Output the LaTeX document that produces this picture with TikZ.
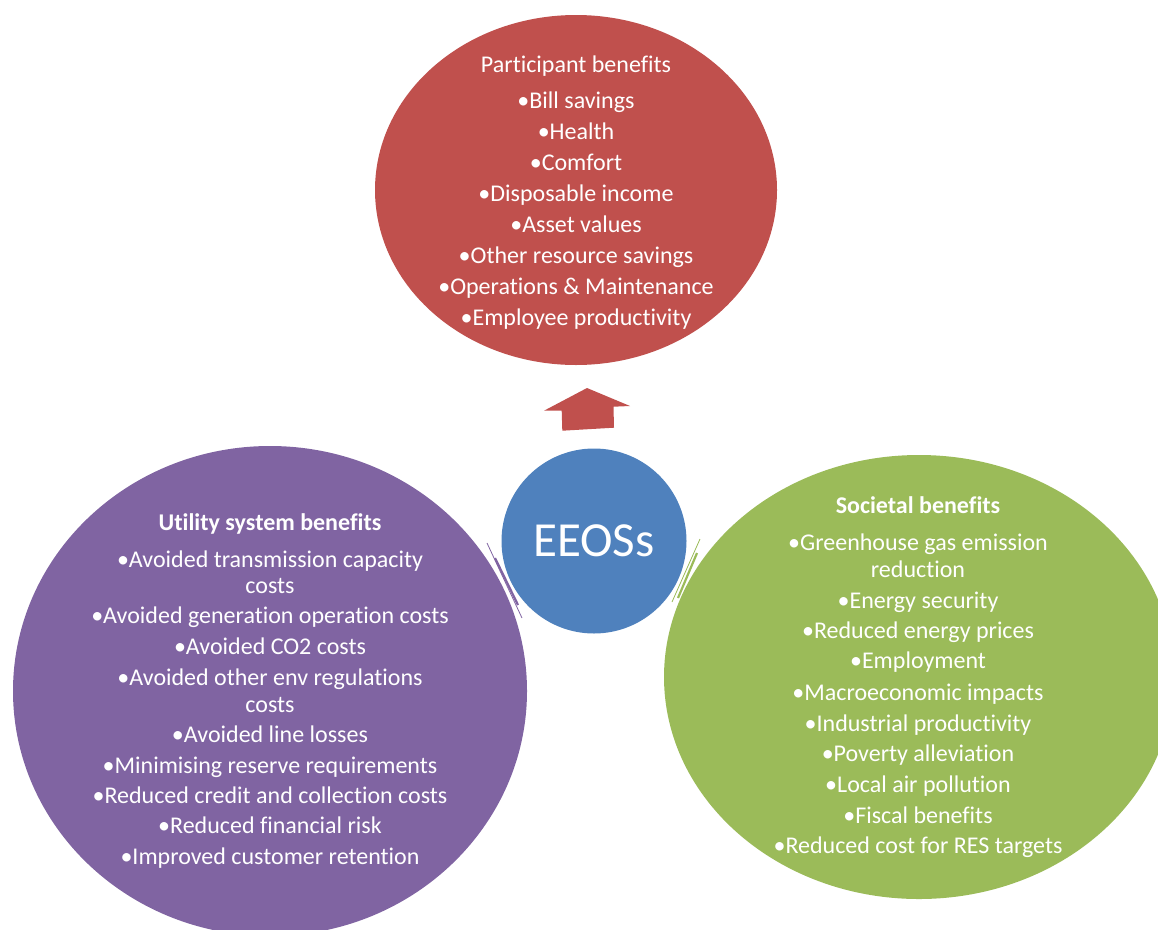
\documentclass[tikz,border=0pt]{standalone}
\usepackage{fontspec}
\setmainfont{Carlito}[Ligatures=NoCommon]
\usetikzlibrary{shapes.geometric}
\definecolor{cred}{HTML}{C0504D}
\definecolor{cpurple}{HTML}{8064A2}
\definecolor{cgreen}{HTML}{9BBB59}
\definecolor{cblue}{HTML}{4F81BD}
\tikzset{
  blob/.style={ellipse, inner sep=0pt, draw=none},
  txt/.style={anchor=base, text=white, inner sep=0pt, font=\fontsize{24}{28}\selectfont},
  ttl/.style={txt, font=\fontsize{24}{28}\selectfont\bfseries},
  sliver/.style={line cap=butt},
}
\begin{document}
\begin{tikzpicture}[x=1pt,y=-1pt]
\useasboundingbox (0,0) rectangle (1158,929);
\begin{scope}
\clip (0,0) rectangle (1158,929);
% ellipses
\node[blob, fill=cred, minimum width=402pt, minimum height=350pt] (red) at (576,190) {};
\node[blob, fill=cpurple, minimum width=514pt, minimum height=490pt] (purple) at (270,691) {};
\node[blob, fill=cgreen, minimum width=510pt, minimum height=444pt] (green) at (919,677) {};
\node[circle, fill=cblue, inner sep=0pt, minimum size=185pt, text=white,
      font=\fontsize{49}{55}\selectfont] (eeos) at (594,541) {EEOSs};
\end{scope}
% top arrow
\fill[cred] (587,388) coordinate (tip) -- (630,406) -- (613.5,406.7) -- (614,427.7)
  -- (562.3,430.7) -- (561.7,410.7) -- (544,410.7) -- cycle;
% slivers
\draw[cpurple, line width=0.8pt, sliver] (487,543) coordinate (pl1) -- (522,618) coordinate (pl2);
\draw[cpurple, line width=2.2pt, sliver] (495,558) coordinate (pl3) -- (518,605) coordinate (pl4);
\draw[cgreen, line width=0.8pt, sliver] (700,539) coordinate (gl1) -- (672,602) coordinate (gl2);
\draw[cgreen, line width=2.2pt, sliver] (697,553) coordinate (gl3) -- (678,598) coordinate (gl4);
% red texts
\node[txt] (r0) at (576,72) {Participant benefits};
\node[txt] (r1) at (576,108) {\textbullet Bill savings};
\node[txt] (r2) at (576,139) {\textbullet Health};
\node[txt] (r3) at (576,170) {\textbullet Comfort};
\node[txt] (r4) at (576,201) {\textbullet Disposable income};
\node[txt] (r5) at (576,232) {\textbullet Asset values};
\node[txt] (r6) at (576,263) {\textbullet Other resource savings};
\node[txt] (r7) at (576,294) {\textbullet Operations \& Maintenance};
\node[txt] (r8) at (576,325) {\textbullet Employee productivity};
% purple texts
\node[ttl] (p0) at (270,530) {Utility system benefits};
\node[txt] (p1) at (270,567) {\textbullet Avoided transmission capacity};
\node[txt] (p1b) at (270,593) {costs};
\node[txt] (p2) at (270,623) {\textbullet Avoided generation operation costs};
\node[txt] (p3) at (270,654) {\textbullet Avoided CO2 costs};
\node[txt] (p4) at (270,685) {\textbullet Avoided other env regulations};
\node[txt] (p4b) at (270,712) {costs};
\node[txt] (p5) at (270,742) {\textbullet Avoided line losses};
\node[txt] (p6) at (270,773) {\textbullet Minimising reserve requirements};
\node[txt] (p7) at (270,803) {\textbullet Reduced credit and collection costs};
\node[txt] (p8) at (270,833) {\textbullet Reduced financial risk};
\node[txt] (p9) at (270,864) {\textbullet Improved customer retention};
% green texts
\node[ttl] (g0) at (918,513) {Societal benefits};
\node[txt] (g1) at (918,550) {\textbullet Greenhouse gas emission};
\node[txt] (g1b) at (918,577) {reduction};
\node[txt] (g2) at (918,608) {\textbullet Energy security};
\node[txt] (g3) at (918,638) {\textbullet Reduced energy prices};
\node[txt] (g4) at (918,668) {\textbullet Employment};
\node[txt] (g5) at (918,700) {\textbullet Macroeconomic impacts};
\node[txt] (g6) at (918,731) {\textbullet Industrial productivity};
\node[txt] (g7) at (918,761) {\textbullet Poverty alleviation};
\node[txt] (g8) at (918,792) {\textbullet Local air pollution};
\node[txt] (g9) at (918,823) {\textbullet Fiscal benefits};
\node[txt] (g10) at (918,853) {\textbullet Reduced cost for RES targets};
\end{tikzpicture}
\end{document}
